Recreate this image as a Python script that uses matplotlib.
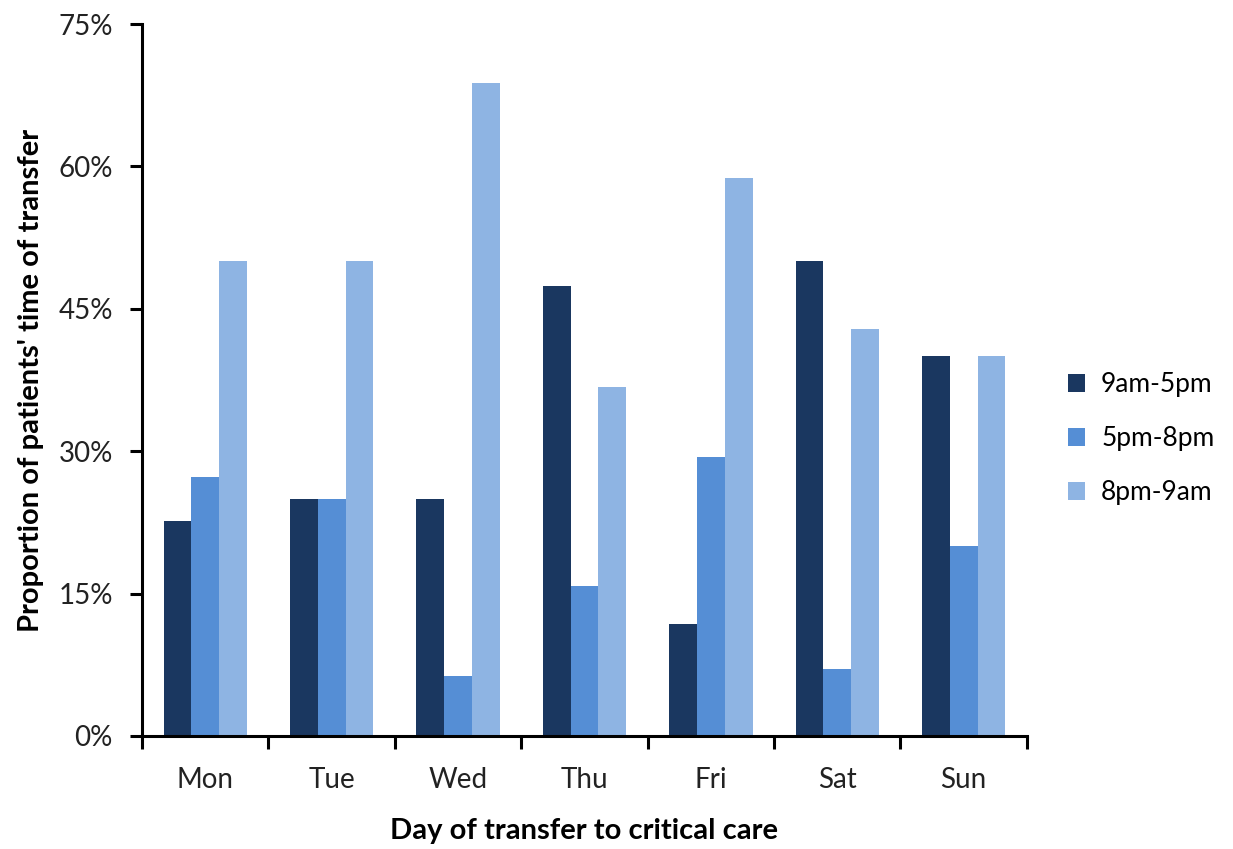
import numpy as np
import matplotlib.pyplot as plt
from matplotlib.ticker import FuncFormatter

# === Data ===
days = ["Mon", "Tue", "Wed", "Thu", "Fri", "Sat", "Sun"]
day_shift = [22.7, 25.0, 25.0, 47.4, 11.8, 50.0, 40.0]      # 9am-5pm
evening = [27.3, 25.0, 6.3, 15.8, 29.4, 7.1, 20.0]          # 5pm-8pm
night = [50.0, 50.0, 68.8, 36.8, 58.8, 42.9, 40.0]          # 8pm-9am
series_labels = ["9am-5pm", "5pm-8pm", "8pm-9am"]
colors = ["#1A3760", "#558ED5", "#8EB4E3"]

plt.rcParams['font.family'] = ['Lato', 'DejaVu Sans']

fig = plt.figure(figsize=(12.33, 8.49), dpi=100)
ax = fig.add_axes([0.1152, 0.1331, 0.7176, 0.8386])

x = np.arange(len(days))
w = 0.22
for i, (vals, lab, c) in enumerate(zip([day_shift, evening, night], series_labels, colors)):
    ax.bar(x + (i - 1) * w, vals, width=w, color=c, label=lab)

# === Axes styling ===
ax.set_xlim(-0.5, len(days) - 0.5)
ax.set_ylim(0, 75)
ax.set_yticks([0, 15, 30, 45, 60, 75])
ax.yaxis.set_major_formatter(FuncFormatter(lambda v, _: f"{v:.0f}%"))
ax.set_xticks(np.arange(-0.5, len(days), 1.0))
ax.set_xticklabels([])
ax.set_xticks(x, minor=True)
ax.set_xticklabels(days, minor=True)
ax.tick_params(axis='x', which='minor', length=0, pad=22, labelsize=20, colors='#222222')
ax.tick_params(axis='x', which='major', length=9, width=2.2, direction='out')
ax.tick_params(axis='y', length=9, width=2.2, direction='out', pad=12, labelsize=20, labelcolor='#222222')

for side in ['top', 'right']:
    ax.spines[side].set_visible(False)
for side in ['left', 'bottom']:
    ax.spines[side].set_linewidth(2.2)

ax.set_xlabel("Day of transfer to critical care", fontsize=21, fontweight='bold', labelpad=18)
ax.set_ylabel("Proportion of patients' time of transfer", fontsize=21, fontweight='bold', labelpad=10)

fig.legend(loc='center left', bbox_to_anchor=(0.847, 0.483), frameon=False,
           fontsize=19, labelspacing=1.1, handlelength=0.65, handleheight=0.65, handletextpad=0.6)

fig.savefig("out.png", dpi=100)
